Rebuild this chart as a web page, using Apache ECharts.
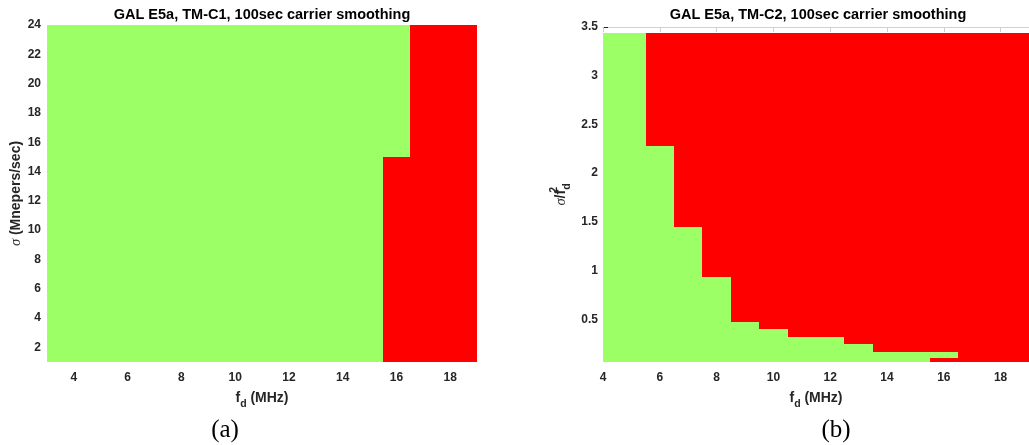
<!DOCTYPE html>
<html>
<head>
<meta charset="utf-8">
<script src="https://cdn.jsdelivr.net/npm/echarts@6/dist/echarts.min.js"></script>
<style>
html, body { margin: 0; padding: 0; background: #fff; }
#main { width: 1029px; height: 445px; }
</style>
</head>
<body>
<div id="main"></div>
<script>
// panel (a): TM-C1, passing sigma band for each fd column
var fdEdgesA = [3, 15.5, 16.5, 19];
var passLowA = [1, 15, 1];
var passHighA = [24, 24, 1];
var sigmaRangeA = [1, 24];
var xTicksA = [4, 6, 8, 10, 12, 14, 16, 18];
var yTicksA = [2, 4, 6, 8, 10, 12, 14, 16, 18, 20, 22, 24];

// panel (b): TM-C2, passing sigma/fd^2 band for each fd column
var fdEdgesB = [4, 5.5, 6.5, 7.5, 8.5, 9.5, 10.5, 12.5, 13.5, 15.5, 16.5, 19];
var passLowB = [0.0625, 0.0625, 0.0625, 0.0625, 0.0625, 0.0625, 0.0625, 0.0625, 0.0625, 0.10, 0.0625];
var passHighB = [3.4375, 2.28, 1.45, 0.93, 0.47, 0.40, 0.32, 0.25, 0.17, 0.17, 0.0625];
var ratioRangeB = [0.0625, 3.4375];
var xTicksB = [4, 6, 8, 10, 12, 14, 16, 18];
var yTicksB = [0.5, 1, 1.5, 2, 2.5, 3, 3.5];

var GREEN = '#9dff66';
var RED = '#ff0000';
var TXT = '#262626';
var FONT = 'Liberation Sans';

function buildCells(edges, low, high, range) {
    var cells = [];
    for (var i = 0; i < edges.length - 1; i++) {
        if (low[i] > range[0]) cells.push([edges[i], edges[i + 1], range[0], low[i], 0]);
        if (high[i] > low[i]) cells.push([edges[i], edges[i + 1], low[i], high[i], 1]);
        if (range[1] > high[i]) cells.push([edges[i], edges[i + 1], high[i], range[1], 0]);
    }
    return cells;
}

function renderCell(params, api) {
    var p0 = api.coord([api.value(0), api.value(3)]);
    var p1 = api.coord([api.value(1), api.value(2)]);
    var x0 = Math.round(p0[0]), y0 = Math.round(p0[1]);
    var x1 = Math.round(p1[0]), y1 = Math.round(p1[1]);
    return {
        type: 'rect',
        shape: { x: x0, y: y0, width: x1 - x0, height: y1 - y0 },
        style: { fill: api.value(4) ? GREEN : RED }
    };
}

var tickLabel = { fontFamily: FONT, fontWeight: 'bold', fontSize: 12, color: TXT };
var nameRich = {
    m: { fontFamily: FONT, fontWeight: 'bold', fontSize: 14, color: TXT, verticalAlign: 'middle', lineHeight: 24 },
    s: { fontFamily: 'Liberation Serif', fontStyle: 'italic', fontSize: 14.5, color: TXT, verticalAlign: 'middle' },
    sub: { fontFamily: FONT, fontWeight: 'bold', fontSize: 10.5, color: TXT, verticalAlign: 'bottom' },
    sup: { fontFamily: FONT, fontWeight: 'bold', fontSize: 10.5, color: TXT, verticalAlign: 'top', width: 0 }
};

var myChart = echarts.init(document.getElementById('main'), null, { renderer: 'canvas' });

var option = {
    animation: false,
    backgroundColor: '#fff',
    title: [{
        text: 'GAL E5a, TM-C1, 100sec carrier smoothing',
        left: 262, top: 7, padding: 0, textAlign: 'center',
        textStyle: { fontFamily: FONT, fontWeight: 'bold', fontSize: 14.5, color: '#000' }
    }, {
        text: 'GAL E5a, TM-C2, 100sec carrier smoothing',
        left: 818, top: 7, padding: 0, textAlign: 'center',
        textStyle: { fontFamily: FONT, fontWeight: 'bold', fontSize: 14.5, color: '#000' }
    }, {
        text: '(a)',
        left: 225, top: 418, padding: 0, textAlign: 'center',
        textStyle: { fontFamily: 'Liberation Serif', fontWeight: 'normal', fontSize: 25, color: '#000' }
    }, {
        text: '(b)',
        left: 836, top: 418, padding: 0, textAlign: 'center',
        textStyle: { fontFamily: 'Liberation Serif', fontWeight: 'normal', fontSize: 25, color: '#000' }
    }],
    grid: [
        { left: 47, top: 25, width: 430, height: 337 },
        { left: 603, top: 27, width: 431, height: 335 }
    ],
    xAxis: [{
        gridIndex: 0, type: 'value', min: 3, max: 19,
        name: '{m|f}{sub|d}{m| (MHz)}', nameLocation: 'middle', nameGap: 24,
        nameTextStyle: { rich: nameRich },
        axisLine: { show: false }, axisTick: { show: false }, splitLine: { show: false },
        axisLabel: Object.assign({ customValues: xTicksA, margin: 10 }, tickLabel)
    }, {
        gridIndex: 1, type: 'value', min: 4, max: 19,
        name: '{m|f}{sub|d}{m| (MHz)}', nameLocation: 'middle', nameGap: 24,
        nameTextStyle: { rich: nameRich },
        axisLine: { show: false }, axisTick: { show: false }, splitLine: { show: false },
        axisLabel: Object.assign({ customValues: xTicksB, margin: 10 }, tickLabel)
    }, {
        gridIndex: 1, type: 'value', min: 4, max: 19, position: 'top',
        axisLine: { show: true, lineStyle: { color: '#d0d0d0', width: 1 } },
        axisTick: { show: true, inside: true, length: 5, customValues: xTicksB, lineStyle: { color: '#d0d0d0' } },
        axisLabel: { show: false }, splitLine: { show: false }
    }],
    yAxis: [{
        gridIndex: 0, type: 'value', min: sigmaRangeA[0], max: sigmaRangeA[1],
        name: '{s|σ}{m| (Mnepers/sec)}', nameLocation: 'middle', nameGap: 19, nameRotate: 90,
        nameTextStyle: { rich: nameRich },
        axisLine: { show: false }, axisTick: { show: false }, splitLine: { show: false },
        axisLabel: Object.assign({ customValues: yTicksA, margin: 6 }, tickLabel)
    }, {
        gridIndex: 1, type: 'value', min: ratioRangeB[0], max: 3.5,
        name: '{s|σ}{m|/f}{sup|2}{sub|d}', nameLocation: 'middle', nameGap: 30, nameRotate: 90,
        nameTextStyle: { rich: nameRich },
        axisLine: { show: false },
        axisTick: { show: true, inside: true, length: 5, customValues: yTicksB, lineStyle: { color: TXT } },
        splitLine: { show: false },
        axisLabel: Object.assign({ customValues: yTicksB, margin: 5 }, tickLabel)
    }],
    series: [{
        type: 'custom', xAxisIndex: 0, yAxisIndex: 0, clip: true,
        encode: { x: [0, 1], y: [2, 3] },
        renderItem: renderCell,
        data: buildCells(fdEdgesA, passLowA, passHighA, sigmaRangeA)
    }, {
        type: 'custom', xAxisIndex: 1, yAxisIndex: 1, clip: true,
        encode: { x: [0, 1], y: [2, 3] },
        renderItem: renderCell,
        data: buildCells(fdEdgesB, passLowB, passHighB, ratioRangeB)
    }]
};

myChart.setOption(option);
</script>
</body>
</html>
